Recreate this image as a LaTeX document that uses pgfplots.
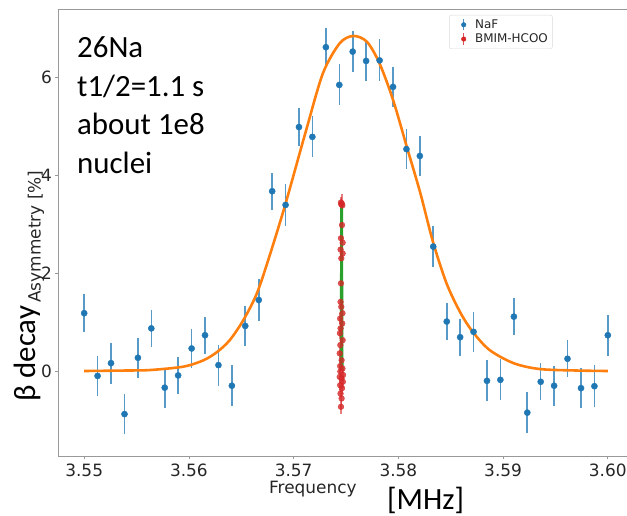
\documentclass[border=0pt]{standalone}
\usepackage{pgfplots}
\pgfplotsset{compat=1.18}
\usepackage{fontspec}
\setmainfont{Carlito}
\newfontfamily\dejavu{DejaVu Sans}
\definecolor{mplblue}{HTML}{1F77B4}
\definecolor{mplorange}{HTML}{FF7F0E}
\definecolor{mplgreen}{HTML}{2CA02C}
\definecolor{mplred}{HTML}{D62728}
\begin{document}
\begin{tikzpicture}
\path[use as bounding box] (0,0) rectangle (627bp,516bp);
\clip (0,0) rectangle (627bp,516bp);
\begin{axis}[
  at={(58bp,60bp)}, anchor=south west,
  scale only axis, width=576bp, height=447bp,
  xmin=3.5475, xmax=3.6025, ymin=-1.735, ymax=7.39,
  axis line style={black!40, line width=0.8pt},
  tick style={black!40, line width=0.8pt}, tick align=outside, major tick length=3.5bp,
  tick pos=left,
  xtick={3.55,3.56,3.57,3.58,3.59,3.60},
  xticklabels={3.55,3.56,3.57,3.58,3.59,3.60},
  ytick={0,2,4,6}, yticklabels={0,2,4,6},
  ticklabel style={font=\dejavu\fontsize{17}{17}\selectfont, text=black!85},
  xticklabel style={yshift=-0.5bp},
  yticklabel style={xshift=1bp},
  /pgf/number format/assume math mode=true,
  legend style={at={(0.679,0.9866)}, anchor=north west, draw=black!15, rounded corners=2pt,
    font=\dejavu\fontsize{12}{12}\selectfont, text=black!85, row sep=0bp, inner sep=2.5bp},
  legend cell align=left,
]
\addplot[only marks, mark=*, mark size=3.1pt, color=mplblue,
  legend image code/.code={\path[draw=none, fill=none] (0cm,-0.1cm) rectangle (0.75cm,0.1cm); \draw[mplblue, line width=1.4pt, opacity=0.8] (0.42cm,-0.2cm) -- (0.42cm,0.2cm); \fill[mplblue] (0.42cm,0) circle (2.3pt);},
  error bars/.cd, y dir=both, y explicit, error mark=none,
  error bar style={line width=1.6pt, mplblue, opacity=0.75}]
table[x=x, y=y, y error=e] {
x y e
3.55000 1.18 0.39
3.55128 -0.10 0.41
3.55256 0.16 0.42
3.55385 -0.88 0.41
3.55513 0.27 0.41
3.55641 0.87 0.38
3.55769 -0.34 0.41
3.55897 -0.09 0.38
3.56026 0.46 0.40
3.56154 0.73 0.38
3.56282 0.12 0.42
3.56410 -0.30 0.42
3.56538 0.92 0.40
3.56667 1.45 0.42
3.56795 3.67 0.38
3.56923 3.39 0.42
3.57051 4.98 0.38
3.57179 4.78 0.42
3.57308 6.61 0.39
3.57436 5.84 0.42
3.57564 6.52 0.42
3.57692 6.33 0.42
3.57821 6.34 0.43
3.57949 5.80 0.41
3.58077 4.53 0.41
3.58205 4.39 0.40
3.58333 2.54 0.41
3.58462 1.01 0.38
3.58590 0.69 0.38
3.58718 0.80 0.41
3.58846 -0.20 0.42
3.58974 -0.18 0.42
3.59103 1.11 0.38
3.59231 -0.85 0.42
3.59359 -0.22 0.38
3.59487 -0.30 0.41
3.59615 0.25 0.38
3.59744 -0.35 0.41
3.59872 -0.31 0.43
3.60000 0.73 0.42
};
\addlegendentry{NaF}
\addplot[only marks, mark=*, mark size=2.9pt, color=mplred, mark options={fill opacity=0.8, draw opacity=0.8},
  legend image code/.code={\path[draw=none, fill=none] (0cm,-0.1cm) rectangle (0.75cm,0.1cm); \draw[mplred, line width=1.4pt, opacity=0.8] (0.42cm,-0.2cm) -- (0.42cm,0.2cm); \fill[mplred] (0.42cm,0) circle (2.3pt);},
  error bars/.cd, y dir=both, y explicit, error mark=none,
  error bar style={line width=1.4pt, mplred, opacity=0.6}]
table[x=x, y=y, y error=e] {
x y e
3.57460 3.42 0.20
3.57455 3.40 0.12
3.57465 3.38 0.12
3.57452 3.44 0.12
3.57462 2.98 0.12
3.57452 2.71 0.12
3.57468 2.62 0.12
3.57448 2.48 0.12
3.57468 2.40 0.12
3.57455 2.30 0.12
3.57452 1.79 0.12
3.57448 1.41 0.12
3.57455 1.31 0.12
3.57466 1.18 0.12
3.57444 1.07 0.12
3.57464 0.97 0.12
3.57448 0.87 0.12
3.57442 0.77 0.12
3.57468 0.63 0.12
3.57446 0.53 0.12
3.57440 0.36 0.12
3.57458 0.22 0.12
3.57444 0.10 0.12
3.57466 0.05 0.12
3.57446 -0.01 0.12
3.57472 -0.08 0.12
3.57440 -0.12 0.12
3.57458 -0.15 0.12
3.57470 -0.22 0.12
3.57444 -0.29 0.12
3.57462 -0.35 0.12
3.57448 -0.46 0.12
3.57458 -0.56 0.12
3.57452 -0.73 0.14
};
\addlegendentry{BMIM-HCOO}
\addplot[mplorange, line width=2.6pt, smooth, forget plot] coordinates {
(3.5500,0.00) (3.5540,0.01) (3.5563,0.02) (3.5595,0.09) (3.5614,0.22)
(3.5627,0.39) (3.5639,0.63) (3.5652,1.04) (3.5665,1.59) (3.5677,2.35)
(3.5690,3.25) (3.5698,3.85) (3.5712,4.92) (3.5728,6.08) (3.5744,6.69)
(3.5757,6.84) (3.5770,6.72) (3.5782,6.28) (3.5795,5.53) (3.5808,4.58)
(3.5821,3.63) (3.5833,2.64) (3.5846,1.79) (3.5859,1.20) (3.5871,0.80)
(3.5887,0.43) (3.5910,0.16) (3.5935,0.04) (3.5970,0.01) (3.6000,0.00)
};
\addplot[mplgreen, line width=2.8pt, line join=round, forget plot] coordinates {
(3.57453,0.02) (3.57458,3.33) (3.57463,0.02)
};
\end{axis}
\node[anchor=base west, inner sep=0, font=\fontsize{31}{31}\selectfont] at (77bp,458bp) {26Na};
\node[anchor=base west, inner sep=0, font=\fontsize{31}{31}\selectfont] at (77bp,419.5bp) {t1/2=1.1 s};
\node[anchor=base west, inner sep=0, font=\fontsize{31}{31}\selectfont] at (77bp,381bp) {about 1e8};
\node[anchor=base west, inner sep=0, font=\fontsize{31}{31}\selectfont] at (77bp,342.5bp) {nuclei};
\node[rotate=90, anchor=base west, inner sep=0, font=\dejavu\fontsize{17}{17}\selectfont, text=black!85] at (40.5bp,213bp) {Asymmetry [\%]};
\node[rotate=90, anchor=base west, inner sep=0, font=\fontsize{31}{31}\selectfont] at (35bp,114bp) {β decay};
\node[anchor=base west, inner sep=0, font=\dejavu\fontsize{17}{17}\selectfont, text=black!85] at (269bp,23bp) {Frequency};
\node[anchor=base west, inner sep=0, font=\fontsize{31}{31}\selectfont] at (387bp,7bp) {[MHz]};
\end{tikzpicture}
\end{document}
